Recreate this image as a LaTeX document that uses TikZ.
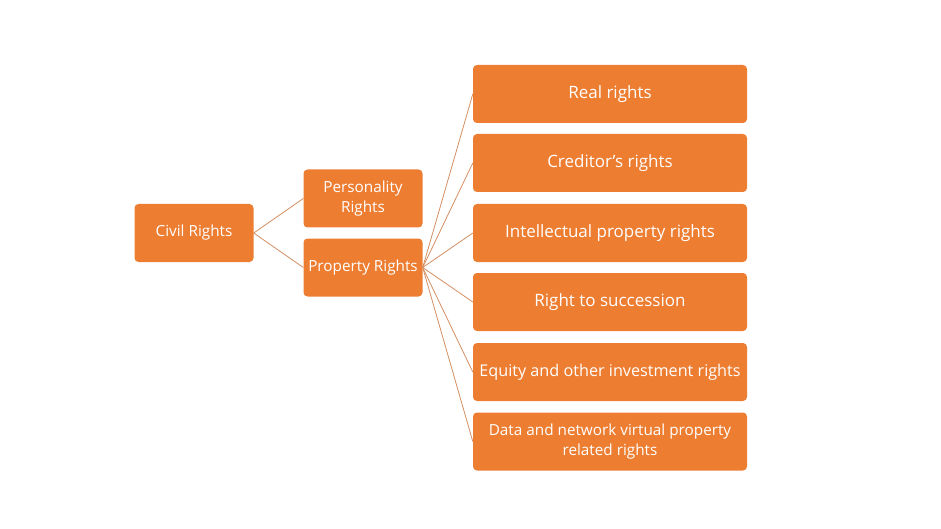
\documentclass[tikz,border=0pt]{standalone}
\usepackage{fontspec}
\setmainfont{Open Sans}
\definecolor{boxor}{HTML}{ED7D31}
\definecolor{lineor}{HTML}{D38E62}
\begin{document}
\begin{tikzpicture}[x=1pt,y=-1pt,
  box/.style={fill=boxor,rounded corners=4pt,text=white,align=center,inner sep=0pt},
  big/.style={box,minimum width=274pt,minimum height=58pt,font=\fontsize{17}{21}\selectfont},
  small/.style={box,minimum width=119pt,minimum height=58pt,font=\fontsize{15.3}{20}\selectfont},
  link/.style={lineor,line width=0.8pt}]
\useasboundingbox (0,0) rectangle (941,529);
\node[small] (civil) at (194,233) {Civil Rights};
\node[small] (pers) at (363,198.5) {Personality\\Rights};
\node[small] (prop) at (363,267.5) {Property Rights};
\node[big] (r1) at (610,94) {Real rights};
\node[big] (r2) at (610,163) {Creditor\char39 s rights};
\node[big] (r3) at (610,233) {Intellectual property rights};
\node[big] (r4) at (610,302) {Right to succession};
\node[big,font=\fontsize{16.2}{21}\selectfont] (r5) at (610,372) {Equity and other investment rights};
\node[big,font=\fontsize{15.3}{20}\selectfont] (r6) at (610,441.5) {Data and network virtual property\\related rights};
\draw[link] (civil.east) -- (pers.west);
\draw[link] (civil.east) -- (prop.west);
\foreach \n in {r1,r2,r3,r4,r5,r6} \draw[link] (prop.east) -- (\n.west);
\end{tikzpicture}
\end{document}
